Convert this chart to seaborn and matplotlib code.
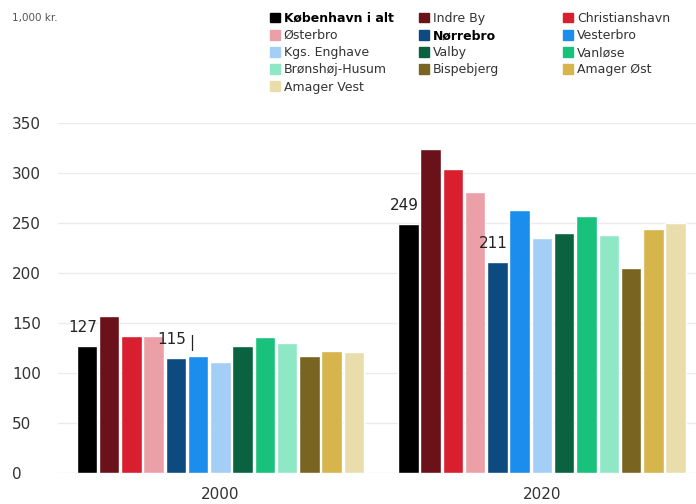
import pandas as pd
import matplotlib
matplotlib.use("Agg")
import matplotlib.pyplot as plt
import seaborn as sns

years = ["2000", "2020"]
districts = ["København i alt", "Indre By", "Christianshavn", "Østerbro", "Nørrebro",
             "Vesterbro", "Kgs. Enghave", "Valby", "Vanløse", "Brønshøj-Husum",
             "Bispebjerg", "Amager Øst", "Amager Vest"]
values_2000 = [127, 157, 137, 137, 115, 117, 111, 127, 136, 130, 117, 122, 121]
values_2020 = [249, 324, 304, 281, 211, 263, 235, 240, 257, 238, 205, 244, 250]
colors = ["#000000", "#6b1119", "#d91f2f", "#eba0a7", "#0c4a80", "#1b8ded",
          "#a3cff6", "#0a6240", "#19c27c", "#8fe8c5", "#7a6422", "#d5b54c", "#e9ddac"]
labelled = ["København i alt", "Nørrebro"]

df = pd.DataFrame({
    "year": [y for y in years for _ in districts],
    "district": districts * 2,
    "value": values_2000 + values_2020,
})

sns.set_style("white")
plt.rcParams["font.family"] = ["DejaVu Sans"]

fig = plt.figure(figsize=(6.96, 5.04), dpi=100)
ax = fig.add_axes([58 / 696, 31 / 504, 638 / 696, 350 / 504])

sns.barplot(data=df, x="year", y="value", hue="district", hue_order=districts,
            palette=dict(zip(districts, colors)), width=0.9, gap=0.08,
            saturation=1, legend=False, ax=ax)

# value labels for the two highlighted series
for name in labelled:
    cont = ax.containers[districts.index(name)]
    for bar in cont:
        ax.annotate(f"{bar.get_height():.0f}",
                    (bar.get_x() + bar.get_width(), bar.get_height()),
                    xytext=(0, 8), textcoords="offset points",
                    ha="right", va="bottom", fontsize=11, color="#222222")
# small stray tick next to the 2000 Nørrebro label
nb = ax.containers[districts.index("Nørrebro")][0]
ax.annotate("|", (nb.get_x() + nb.get_width(), nb.get_height()),
            xytext=(2, 5), textcoords="offset points",
            ha="left", va="bottom", fontsize=11, color="#222222")

ax.set_xlim(-0.505, 1.479)
ax.set_ylim(0, 350)
ax.set_yticks(range(0, 351, 50))
ax.yaxis.grid(True, color="#ebebeb", linewidth=1)
ax.set_axisbelow(True)
sns.despine(ax=ax, left=True, bottom=True, top=True, right=True)
ax.set_xlabel("")
ax.set_ylabel("")
ax.tick_params(axis="y", length=0, pad=33, labelsize=11, labelcolor="#333333")
ax.tick_params(axis="x", length=0, pad=10, labelsize=11, labelcolor="#333333")
for lab in ax.get_yticklabels():
    lab.set_ha("left")

fig.text(12 / 696, 1 - 18 / 504, "1,000 kr.", fontsize=7.5, color="#555555", va="center")

# legend: three separate columns, filled row by row
handles = [plt.Rectangle((0, 0), 1, 1, color=c) for c in colors]
col_x = [270, 419, 563]
for k, x0 in enumerate(col_x):
    idx = list(range(k, len(districts), 3))
    leg = fig.legend([handles[i] for i in idx], [districts[i] for i in idx],
                     loc="upper left", bbox_to_anchor=(x0 / 696, 1 - 12 / 504),
                     frameon=False, fontsize=9, handlelength=0.8, handleheight=0.8,
                     handletextpad=0.3, labelspacing=0.33,
                     borderpad=0, borderaxespad=0)
    for t in leg.get_texts():
        t.set_color("#333333")
        if t.get_text() in labelled:
            t.set_fontweight("bold")
            t.set_color("#000000")

fig.savefig("out.png", dpi=100)
